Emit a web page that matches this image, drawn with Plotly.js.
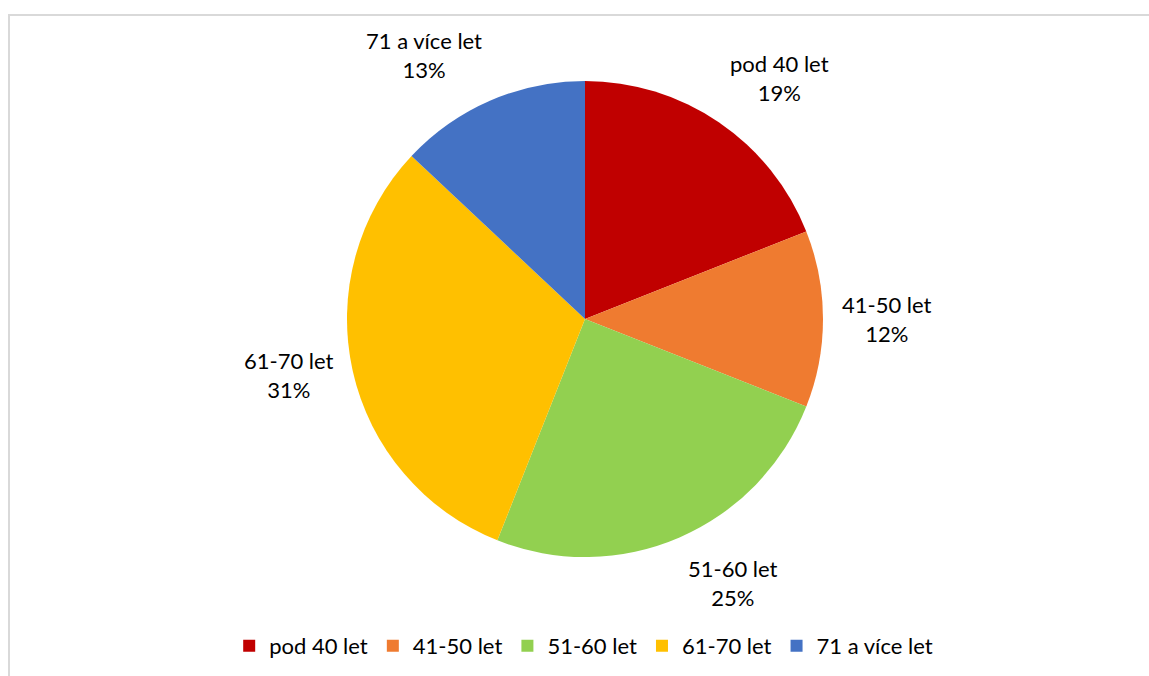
<!DOCTYPE html>
<html><head><meta charset="utf-8">
<script src="https://cdn.plot.ly/plotly-3.0.1.min.js"></script>
<style>
html,body{margin:0;padding:0;background:#fff;}
#frame{position:absolute;left:8px;top:14px;width:1150px;height:680px;border-left:2px solid #d9d9d9;border-top:2px solid #d9d9d9;box-sizing:border-box;}
#chart{position:absolute;left:0;top:0;width:1149px;height:676px;}
</style></head>
<body>
<div id="frame"></div>
<div id="chart"></div>
<script>
const categories = ["pod 40 let", "41-50 let", "51-60 let", "61-70 let", "71 a více let"];
const values = [19, 12, 25, 31, 13];
const colors = ["#C00000", "#EF7B30", "#92D050", "#FFC000", "#4472C4"];

const W = 1149, H = 676;
const cx = 585, cy = 319, r = 238, labelR = 256;
const FONT = "Lato, 'Open Sans', sans-serif";

const total = values.reduce((a, b) => a + b, 0);
let cum = 0;
const annotations = values.map((v, i) => {
  const mid = (cum + v / 2) / total;
  cum += v;
  const th = mid * 2 * Math.PI;
  const s = Math.sin(th), c = Math.cos(th);
  const x = cx + labelR * s;
  const y = cy - labelR * c;
  return {
    xref: "paper", yref: "paper", x: x / W, y: 1 - y / H,
    xanchor: s > 0.3 ? "left" : (s < -0.3 ? "right" : "center"),
    yanchor: c > 0.3 ? "bottom" : (c < -0.3 ? "top" : "middle"),
    showarrow: false, borderpad: 0,
    text: categories[i] + "<br>" + Math.round(v / total * 100) + "%",
    font: {family: FONT, size: 22, color: "#000"}
  };
});

const trace = {
  type: "pie",
  labels: categories,
  values: values,
  sort: false,
  direction: "clockwise",
  rotation: 0,
  marker: {colors: colors, line: {color: "#ffffff", width: 0}},
  textinfo: "none",
  hoverinfo: "label+percent",
  showlegend: true,
  domain: {x: [(cx - r) / W, (cx + r) / W], y: [1 - (cy + r) / H, 1 - (cy - r) / H]}
};

const layout = {
  width: W, height: H,
  margin: {l: 0, r: 0, t: 0, b: 0},
  paper_bgcolor: "rgba(0,0,0,0)",
  plot_bgcolor: "rgba(0,0,0,0)",
  font: {family: FONT, size: 22, color: "#000"},
  showlegend: true,
  annotations: annotations,
  legend: {orientation: "h", x: 0.508, xanchor: "center", y: 1 - 646 / H, yanchor: "middle",
           font: {size: 22, color: "#000"}, itemwidth: 30, tracegroupgap: 0}
};

Plotly.newPlot("chart", [trace], layout, {displayModeBar: false, staticPlot: true});
</script>
</body></html>
